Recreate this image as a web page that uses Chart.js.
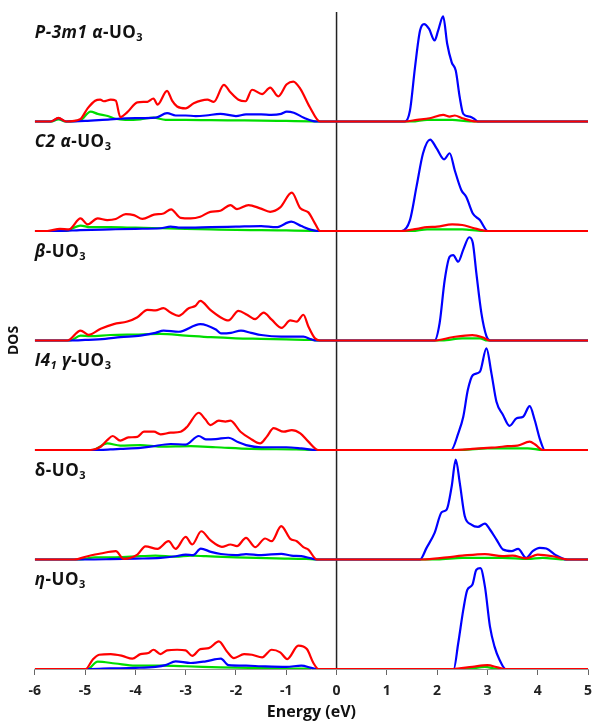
<!DOCTYPE html>
<html>
<head>
<meta charset="utf-8">
<script src="https://cdn.jsdelivr.net/npm/chart.js@4.4.1/dist/chart.umd.min.js"></script>
<style>
  html, body { margin: 0; padding: 0; background: #fff; }
  #wrap { width: 594px; height: 724px; position: relative; }
</style>
</head>
<body>
<div id="wrap"><canvas id="myChart"></canvas></div>
<script>
// Energy axis ticks (eV)
const energyTicks = [-6, -5, -4, -3, -2, -1, 0, 1, 2, 3, 4, 5];
const fermiLevel = 0;

// Panel labels (segments: i = italic, sub = subscript)
const labelP3m1 = [{t: 'P-3m1 ', i: true}, {t: 'α', i: true}, {t: '-UO'}, {t: '3', sub: true}];
const labelC2 = [{t: 'C2 ', i: true}, {t: 'α', i: true}, {t: '-UO'}, {t: '3', sub: true}];
const labelBeta = [{t: 'β', i: true}, {t: '-UO'}, {t: '3', sub: true}];
const labelGamma = [{t: 'I4', i: true}, {t: '1', i: true, sub: true}, {t: ' γ', i: true}, {t: '-UO'}, {t: '3', sub: true}];
const labelDelta = [{t: 'δ'}, {t: '-UO'}, {t: '3', sub: true}];
const labelEta = [{t: 'η', i: true}, {t: '-UO'}, {t: '3', sub: true}];

// DOS curves, [energy, DOS] pairs (arbitrary units)
// P-3m1 alpha
const p3m1Red = [[-6,0],[-5.68,0],[-5.53,0.34],[-5.38,0],[-5.1,0.2],[-4.95,1.2],[-4.8,1.9],[-4.7,2.0],[-4.63,1.85],[-4.49,2.0],[-4.39,1.9],[-4.3,0.4],[-4.16,0.85],[-3.96,1.75],[-3.76,1.8],[-3.64,2.1],[-3.56,1.55],[-3.37,2.8],[-3.27,1.9],[-3.17,1.37],[-3.0,1.2],[-2.84,1.67],[-2.57,2.0],[-2.44,1.8],[-2.24,3.35],[-2.11,2.67],[-1.95,1.98],[-1.81,1.85],[-1.68,2.9],[-1.48,2.5],[-1.32,3.1],[-1.16,2.3],[-0.99,3.4],[-0.86,3.65],[-0.72,2.98],[-0.53,1.3],[-0.33,0],[1.36,0],[1.6,0.15],[1.85,0.3],[2.12,0.6],[2.25,0.45],[2.35,0.55],[2.5,0.3],[2.78,0],[5,0]];
const p3m1Blue = [[-6,0],[-5.68,0],[-5.53,0.3],[-5.38,0],[-5.0,0.05],[-4.5,0.2],[-4.0,0.3],[-3.6,0.35],[-3.37,0.76],[-3.2,0.55],[-3.0,0.55],[-2.8,0.5],[-2.6,0.55],[-2.31,0.7],[-2.0,0.5],[-1.8,0.65],[-1.5,0.65],[-1.3,0.6],[-1.1,0.7],[-0.99,0.9],[-0.85,0.8],[-0.65,0.35],[-0.4,0],[1.36,0],[1.46,1.0],[1.56,4.95],[1.66,8.3],[1.74,8.9],[1.84,8.45],[1.95,7.4],[2.02,8.3],[2.12,9.6],[2.2,7.1],[2.29,5.4],[2.37,4.65],[2.45,2.2],[2.52,0.7],[2.65,0.45],[2.75,0.2],[2.81,0],[5,0]];
const p3m1Green = [[-6,0],[-5.68,0],[-5.53,0.2],[-5.38,0],[-5.1,0.1],[-4.89,0.9],[-4.75,0.7],[-4.55,0.5],[-4.4,0.25],[-4.2,0.15],[-3.9,0.2],[-3.64,0.35],[-3.4,0.15],[-3.0,0.15],[-2.5,0.12],[-2.0,0.1],[-1.5,0.08],[-1.0,0.05],[-0.5,0.02],[-0.35,0],[1.5,0],[1.8,0.15],[2.3,0.15],[2.65,0],[5,0]];
// C2 alpha
const c2Red = [[-6,0],[-5.75,0],[-5.5,0.2],[-5.32,0.15],[-5.09,1.15],[-4.95,0.6],[-4.75,1.15],[-4.56,1.0],[-4.39,1.1],[-4.19,1.55],[-4.03,1.45],[-3.86,1.1],[-3.63,1.5],[-3.44,1.6],[-3.29,1.98],[-3.1,1.2],[-2.9,1.15],[-2.71,1.3],[-2.51,1.75],[-2.31,1.85],[-2.11,2.37],[-1.98,2.0],[-1.75,2.37],[-1.52,2.07],[-1.32,1.75],[-1.12,2.15],[-0.89,3.5],[-0.72,2.07],[-0.56,1.7],[-0.43,0.7],[-0.33,0],[1.3,0],[1.6,0.2],[1.8,0.35],[2.0,0.4],[2.3,0.6],[2.5,0.55],[2.7,0.3],[3.0,0],[5,0]];
const c2Blue = [[-6,0],[-5.5,0],[-5.1,0.08],[-4.5,0.15],[-4.0,0.2],[-3.5,0.25],[-3.3,0.4],[-3.1,0.3],[-2.5,0.35],[-2.0,0.4],[-1.5,0.45],[-1.2,0.35],[-0.9,0.85],[-0.7,0.45],[-0.5,0.1],[-0.38,0],[1.29,0],[1.46,1.0],[1.59,4.05],[1.72,7.1],[1.86,8.35],[1.99,7.55],[2.14,6.55],[2.25,7.1],[2.35,5.55],[2.48,3.75],[2.58,3.1],[2.71,1.6],[2.85,1.0],[3.01,0],[5,0]];
const c2Green = [[-6,0],[-5.4,0],[-5.09,0.5],[-4.9,0.35],[-4.5,0.35],[-4.0,0.3],[-3.5,0.25],[-3.0,0.2],[-2.5,0.15],[-2.0,0.1],[-1.5,0.08],[-1.0,0.05],[-0.5,0.02],[-0.35,0],[1.5,0],[1.8,0.15],[2.5,0.15],[2.9,0],[5,0]];
// beta
const betaRed = [[-6,0],[-5.35,0],[-5.09,0.9],[-4.93,0.52],[-4.69,1.07],[-4.43,1.5],[-4.16,1.73],[-3.96,2.13],[-3.76,2.8],[-3.6,2.75],[-3.44,2.95],[-3.3,2.55],[-3.14,2.25],[-2.94,2.95],[-2.81,3.15],[-2.71,3.62],[-2.51,2.8],[-2.31,2.13],[-2.15,1.83],[-1.95,2.7],[-1.78,2.35],[-1.62,1.95],[-1.45,2.55],[-1.29,1.9],[-1.09,1.15],[-0.92,1.83],[-0.79,1.73],[-0.66,2.35],[-0.56,1.28],[-0.43,0.2],[-0.33,0],[1.95,0],[2.3,0.3],[2.7,0.5],[2.9,0.3],[3.05,0],[5,0]];
const betaBlue = [[-6,0],[-5.3,0],[-5.0,0.05],[-4.6,0.15],[-4.3,0.3],[-3.9,0.45],[-3.6,0.7],[-3.44,0.9],[-3.14,0.8],[-2.71,1.5],[-2.4,1.0],[-2.3,0.65],[-2.1,0.7],[-1.9,0.9],[-1.7,0.7],[-1.5,0.5],[-1.1,0.35],[-0.66,0.35],[-0.5,0.1],[-0.4,0],[1.95,0],[2.05,1.6],[2.15,5.5],[2.25,7.65],[2.32,7.8],[2.42,7.2],[2.52,8.3],[2.64,9.43],[2.71,8.9],[2.78,6.15],[2.88,2.5],[2.98,0.4],[3.05,0],[5,0]];
const betaGreen = [[-6,0],[-5.3,0],[-5.09,0.45],[-4.9,0.4],[-4.5,0.5],[-4.0,0.55],[-3.5,0.6],[-3.0,0.45],[-2.5,0.3],[-2.0,0.2],[-1.5,0.15],[-1.0,0.1],[-0.5,0.05],[-0.35,0],[2.1,0],[2.5,0.2],[2.85,0.2],[3.0,0],[5,0]];
// I4_1 gamma
const gammaRed = [[-6,0],[-4.89,0],[-4.69,0.3],[-4.56,0.9],[-4.45,1.28],[-4.3,0.85],[-4.14,1.15],[-3.96,1.2],[-3.83,1.67],[-3.63,1.67],[-3.5,1.43],[-3.3,1.58],[-3.1,1.67],[-2.97,2.13],[-2.74,3.4],[-2.61,2.8],[-2.51,2.28],[-2.34,2.68],[-2.21,2.6],[-2.11,2.68],[-1.91,1.67],[-1.72,1.06],[-1.52,0.6],[-1.39,1.2],[-1.25,2.0],[-1.05,1.67],[-0.89,1.82],[-0.72,1.52],[-0.56,0.76],[-0.36,0],[2.3,0],[2.7,0.1],[3.0,0.2],[3.2,0.25],[3.4,0.35],[3.6,0.4],[3.84,0.76],[3.95,0.5],[4.1,0],[5,0]];
const gammaBlue = [[-6,0],[-4.85,0],[-4.5,0.05],[-4.3,0.1],[-3.9,0.2],[-3.7,0.3],[-3.3,0.55],[-3.0,0.5],[-2.74,1.28],[-2.6,0.97],[-2.4,1.0],[-2.15,1.12],[-1.95,0.7],[-1.8,0.45],[-1.5,0.25],[-1.0,0.25],[-0.7,0.15],[-0.4,0],[2.28,0],[2.42,1.52],[2.52,3.04],[2.61,5.47],[2.71,6.84],[2.85,7.14],[2.98,9.28],[3.08,7.0],[3.18,4.4],[3.31,3.2],[3.44,2.2],[3.58,2.9],[3.71,3.04],[3.84,4.0],[3.94,2.74],[4.05,0.9],[4.14,0],[5,0]];
const gammaGreen = [[-6,0],[-4.85,0],[-4.56,0.6],[-4.3,0.4],[-3.9,0.45],[-3.5,0.3],[-2.9,0.35],[-2.4,0.25],[-1.7,0.1],[-0.8,0.05],[-0.4,0],[2.5,0],[3.0,0.15],[3.8,0.15],[4.1,0],[5,0]];
// delta
const deltaRed = [[-6,0],[-5.22,0],[-4.95,0.3],[-4.69,0.55],[-4.39,0.76],[-4.23,0.06],[-3.96,0.45],[-3.8,1.2],[-3.56,0.97],[-3.34,1.67],[-3.2,0.97],[-3.0,2.07],[-2.87,1.37],[-2.69,2.58],[-2.51,1.76],[-2.28,1.16],[-2.11,1.37],[-1.98,1.22],[-1.8,1.98],[-1.62,1.13],[-1.42,1.92],[-1.29,1.67],[-1.1,3.04],[-0.92,1.89],[-0.79,1.67],[-0.66,1.13],[-0.56,0.9],[-0.39,0],[1.7,0],[2.2,0.2],[2.5,0.35],[2.95,0.5],[3.3,0.3],[3.5,0.35],[3.77,0.1],[4.0,0.45],[4.3,0.3],[4.6,0],[5,0]];
const deltaBlue = [[-6,0],[-5.0,0],[-4.5,0.03],[-4.0,0.08],[-3.5,0.15],[-3.2,0.3],[-3.0,0.45],[-2.85,0.4],[-2.7,1.0],[-2.5,0.7],[-2.3,0.5],[-2.0,0.4],[-1.8,0.5],[-1.5,0.4],[-1.1,0.52],[-0.9,0.35],[-0.7,0.3],[-0.5,0.1],[-0.38,0],[1.66,0],[1.79,1.06],[1.95,2.43],[2.09,4.31],[2.19,4.56],[2.29,6.69],[2.37,9.12],[2.45,7.0],[2.55,3.95],[2.68,3.19],[2.81,2.98],[2.95,3.28],[3.05,2.74],[3.18,1.82],[3.31,0.91],[3.48,0.76],[3.61,0.97],[3.77,0.15],[3.9,0.76],[4.04,1.06],[4.17,1.0],[4.37,0.37],[4.57,0],[5,0]];
const deltaGreen = [[-6,0],[-5.1,0],[-4.8,0.2],[-4.4,0.2],[-3.9,0.3],[-3.6,0.35],[-3.2,0.25],[-2.9,0.35],[-2.6,0.3],[-2.0,0.2],[-1.2,0.1],[-0.6,0.05],[-0.4,0],[2.0,0],[2.5,0.15],[3.3,0.15],[3.8,0.05],[4.1,0.15],[4.5,0],[5,0]];
// eta
const etaRed = [[-6,0],[-4.99,0],[-4.85,0.85],[-4.72,1.3],[-4.49,1.36],[-4.26,1.2],[-4.06,0.94],[-3.9,1.36],[-3.74,1.46],[-3.64,1.76],[-3.5,1.36],[-3.37,1.7],[-3.17,1.76],[-3.0,1.7],[-2.87,1.2],[-2.71,1.82],[-2.54,1.9],[-2.34,2.52],[-2.18,1.6],[-2.04,1.0],[-1.84,1.36],[-1.68,1.3],[-1.48,1.06],[-1.29,1.76],[-1.12,1.52],[-0.98,0.91],[-0.76,2.13],[-0.59,1.82],[-0.46,0.55],[-0.36,0],[2.3,0],[2.7,0.2],[3.0,0.35],[3.2,0.15],[3.35,0],[5,0]];
const etaBlue = [[-6,0],[-4.9,0],[-4.5,0.05],[-4.0,0.1],[-3.6,0.2],[-3.4,0.35],[-3.2,0.7],[-2.9,0.55],[-2.6,0.7],[-2.3,0.95],[-2.15,0.35],[-1.8,0.3],[-1.5,0.25],[-1.0,0.2],[-0.7,0.3],[-0.5,0.1],[-0.4,0],[2.33,0],[2.42,2.37],[2.52,5.4],[2.6,7.23],[2.7,7.69],[2.78,9.06],[2.86,9.21],[2.95,7.54],[3.05,3.89],[3.14,2.07],[3.24,0.85],[3.36,0],[5,0]];
const etaGreen = [[-6,0],[-4.95,0],[-4.75,0.67],[-4.4,0.5],[-4.0,0.3],[-3.5,0.3],[-3.0,0.25],[-2.3,0.15],[-1.5,0.08],[-0.6,0.03],[-0.4,0],[2.6,0],[2.95,0.2],[3.2,0],[5,0]];

// Panel order top to bottom
const panels = [
  {label: labelP3m1, red: p3m1Red, blue: p3m1Blue, green: p3m1Green},
  {label: labelC2, red: c2Red, blue: c2Blue, green: c2Green},
  {label: labelBeta, red: betaRed, blue: betaBlue, green: betaGreen},
  {label: labelGamma, red: gammaRed, blue: gammaBlue, green: gammaGreen},
  {label: labelDelta, red: deltaRed, blue: deltaBlue, green: deltaGreen},
  {label: labelEta, red: etaRed, blue: etaBlue, green: etaGreen}
];

// Apparence
const panelGap = 10;          // vertical offset between stacked panels
const labelRise = 8.2;        // label height above each baseline
const yMax = panels.length * panelGap;
const FONT = '"Open Sans", Lato, "DejaVu Sans", sans-serif';
const RED = '#ff0000', BLUE = '#0000ff', GREEN = '#00dd00';

const datasets = [];
panels.forEach((p, k) => {
  const base = (panels.length - 1 - k) * panelGap;
  const pts = arr => arr.map(([e, v]) => ({x: e, y: base + v}));
  datasets.push({data: pts(p.red), borderColor: RED, order: 0});
  datasets.push({data: pts(p.blue), borderColor: BLUE, order: 1});
  datasets.push({data: pts(p.green), borderColor: GREEN, order: 2});
});
datasets.forEach(d => {
  d.borderWidth = 2.2;
  d.pointRadius = 0;
  d.fill = false;
  d.cubicInterpolationMode = 'monotone';
});
// vertical line at the Fermi level
datasets.push({
  data: [{x: fermiLevel, y: 0}, {x: fermiLevel, y: yMax}],
  borderColor: '#222', borderWidth: 1.5, pointRadius: 0, order: 3
});

// Etiquettes des panneaux
const panelLabels = {
  id: 'panelLabels',
  afterDatasetsDraw(chart) {
    const ctx = chart.ctx;
    const xs = chart.scales.x, ys = chart.scales.y;
    ctx.save();
    ctx.fillStyle = '#111';
    ctx.textBaseline = 'alphabetic';
    ctx.letterSpacing = '0.5px';
    panels.forEach((p, k) => {
      const base = (panels.length - 1 - k) * panelGap;
      let x = xs.left;
      const y = ys.getPixelForValue(base + labelRise) + 6;
      p.label.forEach(s => {
        const size = s.sub ? 11 : 17;
        ctx.font = (s.i ? 'italic ' : '') + 'bold ' + size + 'px ' + FONT;
        ctx.fillText(s.t, x, s.sub ? y + 3 : y);
        x += ctx.measureText(s.t).width;
      });
    });
    ctx.restore();
  }
};

const config = {
  type: 'line',
  data: {datasets: datasets},
  options: {
    responsive: true,
    maintainAspectRatio: false,
    animation: false,
    layout: {padding: {left: 2, right: 2, top: 12, bottom: 2}},
    scales: {
      x: {
        type: 'linear',
        min: energyTicks[0],
        max: energyTicks[energyTicks.length - 1],
        afterBuildTicks: axis => { axis.ticks = energyTicks.map(v => ({value: v})); },
        afterFit: axis => { axis.height = 53; axis.paddingLeft = 0; axis.paddingRight = 6; },
        ticks: {color: '#222', padding: 8, font: {family: FONT, size: 14, weight: 'bold'}},
        grid: {drawOnChartArea: false, drawTicks: true, tickLength: 6, color: '#666'},
        border: {display: true, color: '#999', width: 1},
        title: {display: true, text: 'Energy (eV)', color: '#111',
                font: {family: FONT, size: 16, weight: 'bold'}, padding: {top: 2, bottom: 0}}
      },
      y: {
        min: 0,
        max: yMax,
        ticks: {display: false},
        grid: {display: false},
        border: {display: false},
        title: {display: true, text: 'DOS', color: '#111',
                font: {family: FONT, size: 14, weight: 'bold'}, padding: {top: 4, bottom: 4}}
      }
    },
    plugins: {
      legend: {display: false},
      tooltip: {enabled: false}
    }
  },
  plugins: [panelLabels]
};

var myChart = new Chart(document.getElementById('myChart'), config);
</script>
</body>
</html>
